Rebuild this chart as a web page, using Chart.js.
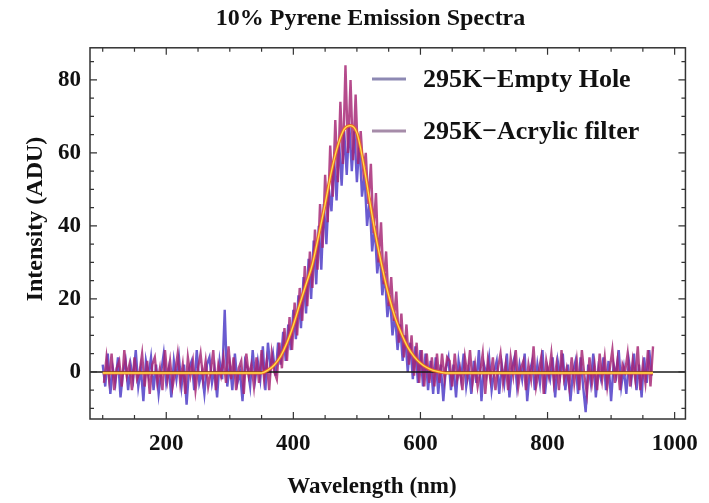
<!DOCTYPE html>
<html><head><meta charset="utf-8">
<script src="https://cdn.jsdelivr.net/npm/chart.js@4"></script>
<style>html,body{margin:0;padding:0;background:#fff}</style>
</head><body>
<canvas id="c" width="709" height="503" style="display:block;width:709px;height:503px"></canvas>
<script>
// ---- data ----
const chartTitle = '10% Pyrene Emission Spectra';
const xAxisTitle = 'Wavelength (nm)';
const yAxisTitle = 'Intensity (ADU)';
const seriesLabels = ['295K\u2212Empty Hole', '295K\u2212Acrylic filter'];
const xTickValues = [200, 400, 600, 800, 1000];
const yTickValues = [0, 20, 40, 60, 80];

// sampling grid of the two measured spectra (nm)
const emptyHoleStart = 100;
const acrylicStart = 102;
const sampleStep = 4;

const emptyHole = [
  2,-4,5,-6,1,-3,4,-7,0,3,
  -5,2,-2,6,-4,1,-8,3,-1,4,
  -5,2,-6,0,5,-3,1,-7,3,-2,
  4,-4,2,-9,1,3,-5,6,-3,0,
  -6,2,4,-3,1,-7,3,-2,17,-4,
  2,-5,5,-3,0,-8,3,1,-4,6,
  -2,3,-2,7,-5,8,1,5,
  -1,8,2,11,3,13,6,17,9,21,
  12,26,16,31,20,36,24,40,28,46,
  35,50,44,59,47,63,51,66,54,68,
  55,66,52,63,48,54,40,47,33,40,
  27,33,21,27,15,21,10,16,6,13,
  3,10,0,8,-2,7,-3,6,-4,5,
  -5,3,-6,4,-6,2,-8,1,
  4,-5,2,-7,3,-2,5,-4,1,-6,
  3,-3,6,-8,2,-1,4,-5,0,3,
  -6,2,-3,5,-7,1,4,-4,2,-2,
  5,-8,0,3,-5,2,-3,6,-6,1,
  -2,4,-7,3,-1,5,-5,2,-8,0,
  3,-6,4,-4,-11,2,-3,5,-7,1,
  -2,4,-5,3,-8,2,-1,6,-4,1,
  -6,3,-2,5,-5,2,-7,4,-3,6,-1
];

const acrylic = [
  -3,4,-2,5,-5,1,3,-4,6,-1,
  2,-5,4,-2,0,5,-4,3,-6,2,
  4,-3,1,-5,6,-2,3,-4,0,5,
  -3,2,-6,4,-1,3,-5,1,5,-2,
  3,-4,0,6,-5,2,-1,4,-3,7,
  -2,4,-5,1,3,-6,5,-1,2,-4,
  4,-3,6,-2,3,-5,5,0,
  -2,8,1,12,3,15,6,19,10,23,
  14,29,18,33,23,39,28,46,34,54,
  41,62,48,69,52,74,57,84,60,80,
  58,76,57,66,55,60,46,57,38,49,
  30,41,24,33,18,26,14,22,8,16,
  4,13,2,10,-1,8,-3,6,-4,5,
  -3,4,-4,5,-3,5,-2,4,
  3,-4,5,-2,1,-5,4,-1,6,-3,
  2,-4,0,5,-6,3,-2,4,-5,1,
  5,-3,2,-5,4,-1,6,-4,1,3,
  -5,2,-2,7,-4,0,4,-6,3,-1,
  5,-3,2,-5,6,-2,1,-4,4,-3,
  3,-5,6,-1,-6,4,-3,2,-5,5,
  -2,4,-4,1,6,-3,3,-5,2,0,
  5,-4,3,-2,7,-5,2,-3,6,-4,7
];

// fitted curve
const fitWavelength = [100,350,360,370,380,390,400,410,420,430,440,450,460,470,480,490,500,510,520,530,540,550,560,570,580,590,600,610,620,630,640,966];
const fitIntensity  = [-0.3,-0.3,0.5,1.9,4.3,8.0,12.8,18.5,24,29.5,37.5,46,55,62,66.5,67.5,65.5,57.5,47,37,28.5,21,15,10.5,6.8,4.2,2.4,1.2,0.4,0,-0.3,-0.3];

// ---- helpers ----
const FONT = "'Liberation Serif','Times New Roman',serif";
function sampled(start, step, vals){ return vals.map((v,i)=>({x:start+step*i, y:v})); }
function paired(xs, ys){ return xs.map((x,i)=>({x:x, y:ys[i]})); }

const legendColors = ['#8d89b3', '#a68ca9'];

const decor = {
  id: 'decor',
  afterLayout(chart){
    const t = chart.titleBlock;
    if (t) { t.left = 52; t.right = 689; }
  },
  afterDatasetDraw(chart, args){
    if (args.index === 1) {
      const ctx = chart.ctx, a = chart.chartArea, y0 = chart.scales.y.getPixelForValue(0);
      ctx.save();
      ctx.strokeStyle = '#1a1a1a'; ctx.lineWidth = 1.5;
      ctx.beginPath(); ctx.moveTo(a.left, y0); ctx.lineTo(a.right, y0); ctx.stroke();
      ctx.restore();
    }
  },
  afterDraw(chart){
    const ctx = chart.ctx, a = chart.chartArea, sx = chart.scales.x, sy = chart.scales.y;
    ctx.save();
    ctx.strokeStyle = '#333'; ctx.lineWidth = 1.5;
    ctx.strokeRect(a.left, a.top, a.right - a.left, a.bottom - a.top);
    ctx.lineWidth = 1.2;
    ctx.beginPath();
    for (let v = 100; v <= 1000; v += 50) {
      const px = sx.getPixelForValue(v);
      const len = xTickValues.includes(v) ? 7 : 4;
      ctx.moveTo(px, a.bottom); ctx.lineTo(px, a.bottom - len);
      ctx.moveTo(px, a.top); ctx.lineTo(px, a.top + len);
    }
    for (let v = -10; v <= 85; v += 5) {
      const py = sy.getPixelForValue(v);
      const len = yTickValues.includes(v) ? 7 : 4;
      ctx.moveTo(a.left, py); ctx.lineTo(a.left + len, py);
      ctx.moveTo(a.right, py); ctx.lineTo(a.right - len, py);
    }
    ctx.stroke();
    // axis titles
    ctx.fillStyle = '#111';
    ctx.textAlign = 'center'; ctx.textBaseline = 'middle';
    ctx.font = 'bold 23px ' + FONT;
    ctx.fillText(xAxisTitle, 372, 487);
    ctx.save();
    ctx.translate(36, 219); ctx.rotate(-Math.PI / 2);
    ctx.font = 'bold 24px ' + FONT;
    ctx.fillText(yAxisTitle, 0, 0);
    ctx.restore();
    // legend
    const rows = [79, 131];
    ctx.font = 'bold 26px ' + FONT;
    ctx.textBaseline = 'middle'; ctx.textAlign = 'left';
    rows.forEach((ry, i) => {
      ctx.strokeStyle = legendColors[i]; ctx.lineWidth = 3;
      ctx.beginPath(); ctx.moveTo(372, ry); ctx.lineTo(406, ry); ctx.stroke();
      ctx.fillStyle = '#111';
      ctx.fillText(chart.data.datasets[i].label, 423, ry + 1);
    });
    ctx.restore();
  }
};

Chart.defaults.font.family = FONT;
Chart.defaults.font.weight = 'bold';
Chart.defaults.color = '#111';

new Chart(document.getElementById('c'), {
  type: 'scatter',
  data: {
    datasets: [
      { label: seriesLabels[0], data: sampled(emptyHoleStart, sampleStep, emptyHole),
        showLine: true, borderColor: 'rgba(80,62,200,0.85)', borderWidth: 2.4, pointRadius: 0, order: 4 },
      { label: seriesLabels[1], data: sampled(acrylicStart, sampleStep, acrylic),
        showLine: true, borderColor: 'rgba(165,35,115,0.82)', borderWidth: 2.4, pointRadius: 0, order: 3 },
      { label: 'fit-outline', data: paired(fitWavelength, fitIntensity),
        showLine: true, borderColor: '#e8662a', borderWidth: 3.2, pointRadius: 0, cubicInterpolationMode: 'monotone', order: 2 },
      { label: 'fit', data: paired(fitWavelength, fitIntensity),
        showLine: true, borderColor: '#ffe14a', borderWidth: 1.3, pointRadius: 0, cubicInterpolationMode: 'monotone', order: 1 }
    ]
  },
  options: {
    responsive: false, animation: false, devicePixelRatio: 1,
    layout: { padding: { top: 0, left: 0, right: 20, bottom: 0 } },
    plugins: {
      legend: { display: false },
      tooltip: { enabled: false },
      title: { display: true, text: chartTitle, color: '#111',
        font: { size: 24, weight: 'bold', family: FONT }, padding: { top: 4, bottom: 15 } }
    },
    scales: {
      x: { type: 'linear', min: 80, max: 1017,
        afterBuildTicks: s => { s.ticks = xTickValues.map(v => ({ value: v })); },
        afterFit: s => { s.height = 84; },
        grid: { display: false, drawTicks: false }, border: { display: false },
        ticks: { font: { size: 23, weight: 'bold' }, color: '#111', padding: 11, maxRotation: 0, autoSkip: false,
          callback: v => String(v) },
        title: { display: false, text: xAxisTitle } },
      y: { type: 'linear', min: -12.9, max: 88.8,
        afterBuildTicks: s => { s.ticks = yTickValues.map(v => ({ value: v })); },
        afterFit: s => { s.width = 90; },
        grid: { display: false, drawTicks: false }, border: { display: false },
        ticks: { font: { size: 23, weight: 'bold' }, color: '#111', padding: 9, callback: v => String(v) },
        title: { display: false, text: yAxisTitle } }
    }
  },
  plugins: [decor]
});
</script>
</body></html>
